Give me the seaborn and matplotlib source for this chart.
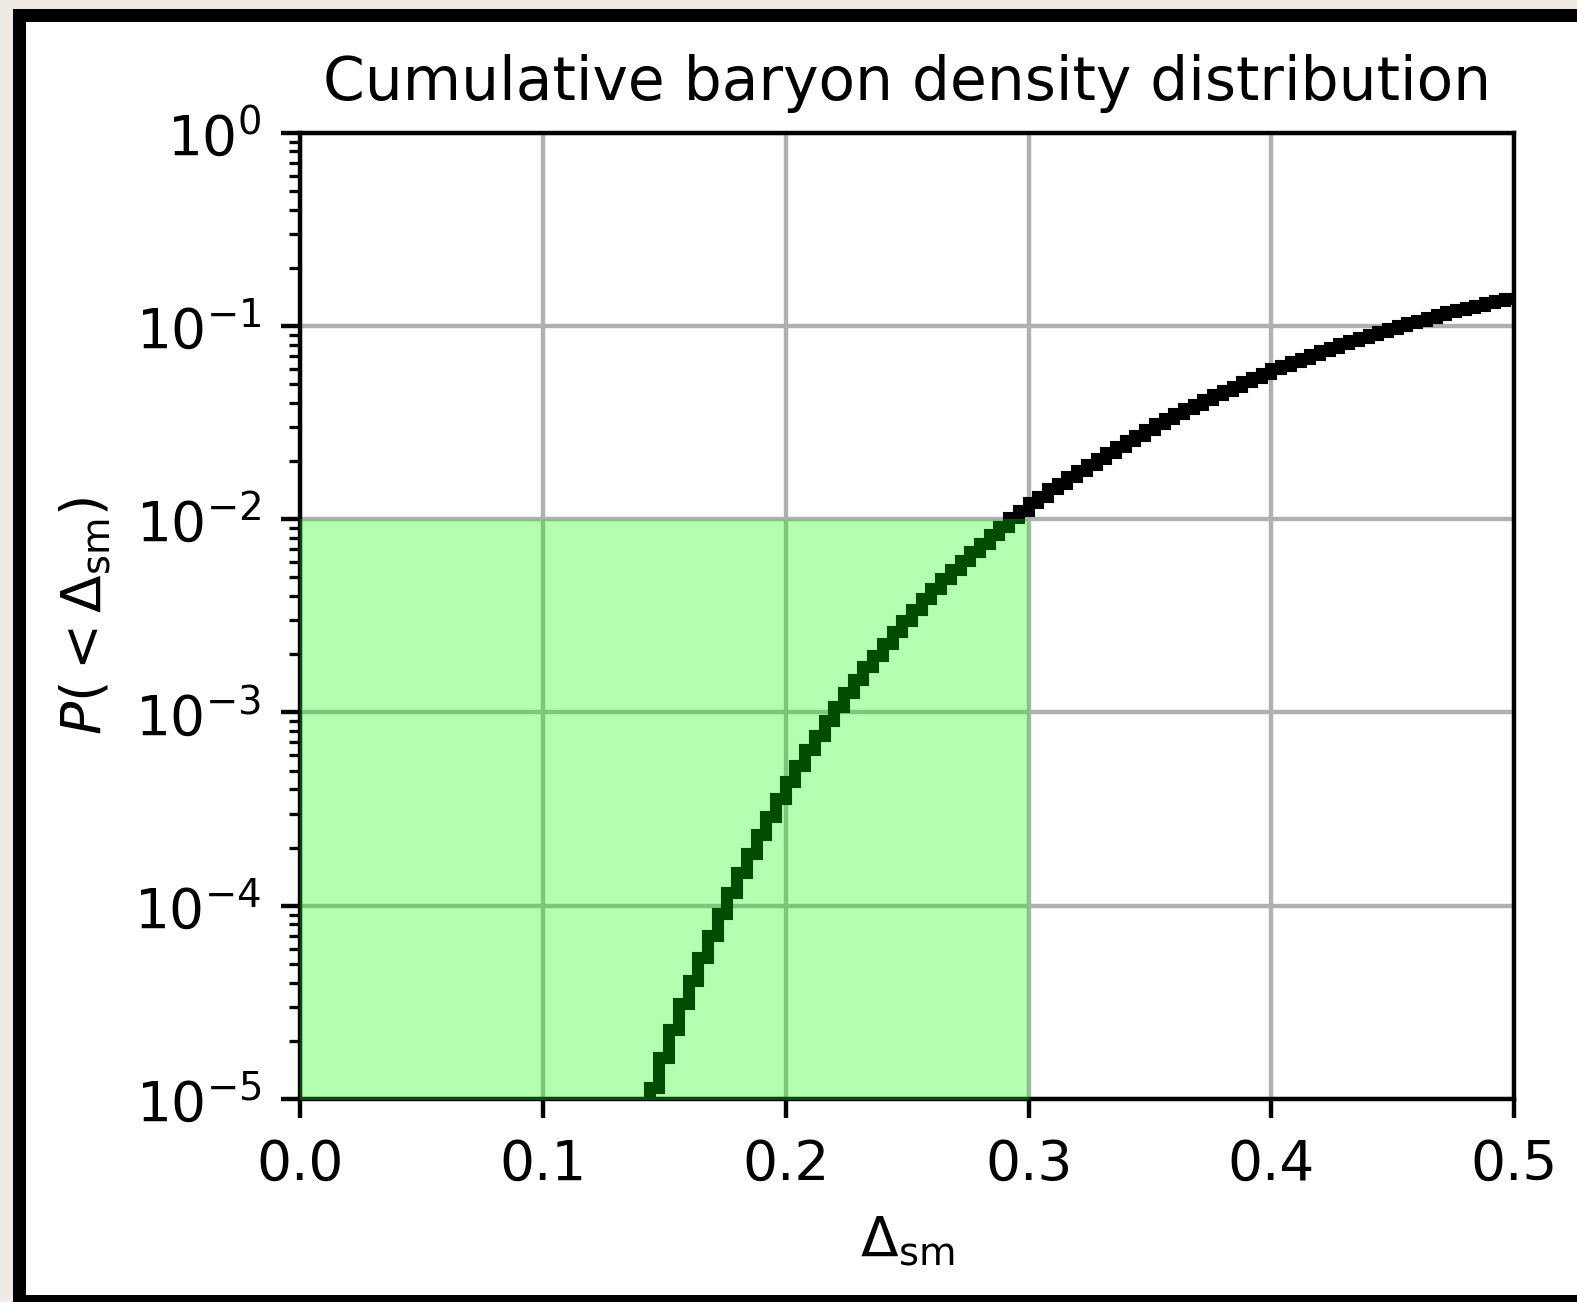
import numpy as np
import matplotlib
matplotlib.use("Agg")
import matplotlib.pyplot as plt
from matplotlib.patches import Rectangle
import seaborn as sns

# Cumulative baryon density distribution, P(< Delta_sm), one value per bin
bin_start = 0.140
bin_width = 0.004
cumulative_p = [
    7.8e-6,
    1.14e-5, 1.63e-5, 2.28e-5, 3.09e-5, 4.09e-5, 5.38e-5, 7.00e-5, 9.08e-5,
    1.16e-4, 1.47e-4, 1.86e-4, 2.32e-4, 2.89e-4, 3.56e-4, 4.35e-4, 5.31e-4,
    6.38e-4, 7.59e-4, 9.06e-4, 1.07e-3, 1.26e-3, 1.47e-3, 1.71e-3, 1.97e-3,
    2.25e-3, 2.61e-3, 2.98e-3, 3.40e-3, 3.85e-3, 4.35e-3, 4.90e-3, 5.46e-3,
    6.10e-3, 6.76e-3, 7.48e-3, 8.30e-3, 9.16e-3, 1.01e-2, 1.10e-2, 1.21e-2,
    1.31e-2, 1.43e-2, 1.53e-2, 1.65e-2, 1.78e-2, 1.91e-2, 2.06e-2, 2.21e-2,
    2.37e-2, 2.53e-2, 2.71e-2, 2.90e-2, 3.10e-2, 3.31e-2, 3.50e-2, 3.70e-2,
    3.92e-2, 4.14e-2, 4.38e-2, 4.62e-2, 4.86e-2, 5.12e-2, 5.38e-2, 5.66e-2,
    5.96e-2, 6.22e-2, 6.49e-2, 6.78e-2, 7.08e-2, 7.38e-2, 7.71e-2, 8.02e-2,
    8.32e-2, 8.65e-2, 8.99e-2, 9.33e-2, 9.70e-2, 0.1002, 0.1035, 0.1067,
    0.1102, 0.1138, 0.1175, 0.1208, 0.1242, 0.1274, 0.1309, 0.1346, 0.1384,
]

x_ticks = [0.0, 0.1, 0.2, 0.3, 0.4, 0.5]
x_limits = (0.0, 0.5)
y_limits = (1e-5, 1e0)
shade_x = (0.0, 0.3)
shade_y_top = 1e-2

title = "Cumulative baryon density distribution"
x_label = r"$\Delta_{\rm sm}$"
y_label = r"$P(<\Delta_{\rm sm})$"

# bin geometry
n_bins = len(cumulative_p)
edges = bin_start + bin_width * np.arange(n_bins + 1)
centers = edges[:-1] + bin_width / 2

W, H = 1577, 1302
dpi = 396
fig = plt.figure(figsize=((W + 0.3) / dpi, (H + 0.3) / dpi), dpi=dpi)
fig.patch.set_facecolor("#efebe4")

# mounted-print frame: black border with a white card inside
fig.add_artist(Rectangle((13 / W, 0), 1 - 13 / W, (H - 9) / H,
                         transform=fig.transFigure, facecolor="black",
                         edgecolor="none", zorder=-10))
fig.add_artist(Rectangle((26 / W, 7 / H), 1 - 26 / W, (H - 22 - 7) / H,
                         transform=fig.transFigure, facecolor="white",
                         edgecolor="none", zorder=-9))

ax = fig.add_axes([300 / W, (H - 1099) / H, (1514 - 300) / W, (1099 - 133) / H])
ax.set_yscale("log")

sns.histplot(x=centers, weights=cumulative_p, bins=list(edges), element="step",
             fill=False, color="black", linewidth=2.2,
             solid_joinstyle="miter", solid_capstyle="butt", ax=ax)

# shaded region of interest
ax.fill_between(shade_x, 1e-7, shade_y_top, color="lime", alpha=0.3,
                linewidth=0, zorder=3)

ax.set_xlim(*x_limits)
ax.set_ylim(*y_limits)
ax.set_xticks(x_ticks)
ax.grid(True, which="major", color="#b0b0b0", linewidth=0.8)
ax.set_axisbelow(True)

ax.set_title(title, fontsize=10.9)
ax.set_xlabel(x_label)
ax.set_ylabel(y_label)

fig.savefig("out.png", dpi=dpi)
